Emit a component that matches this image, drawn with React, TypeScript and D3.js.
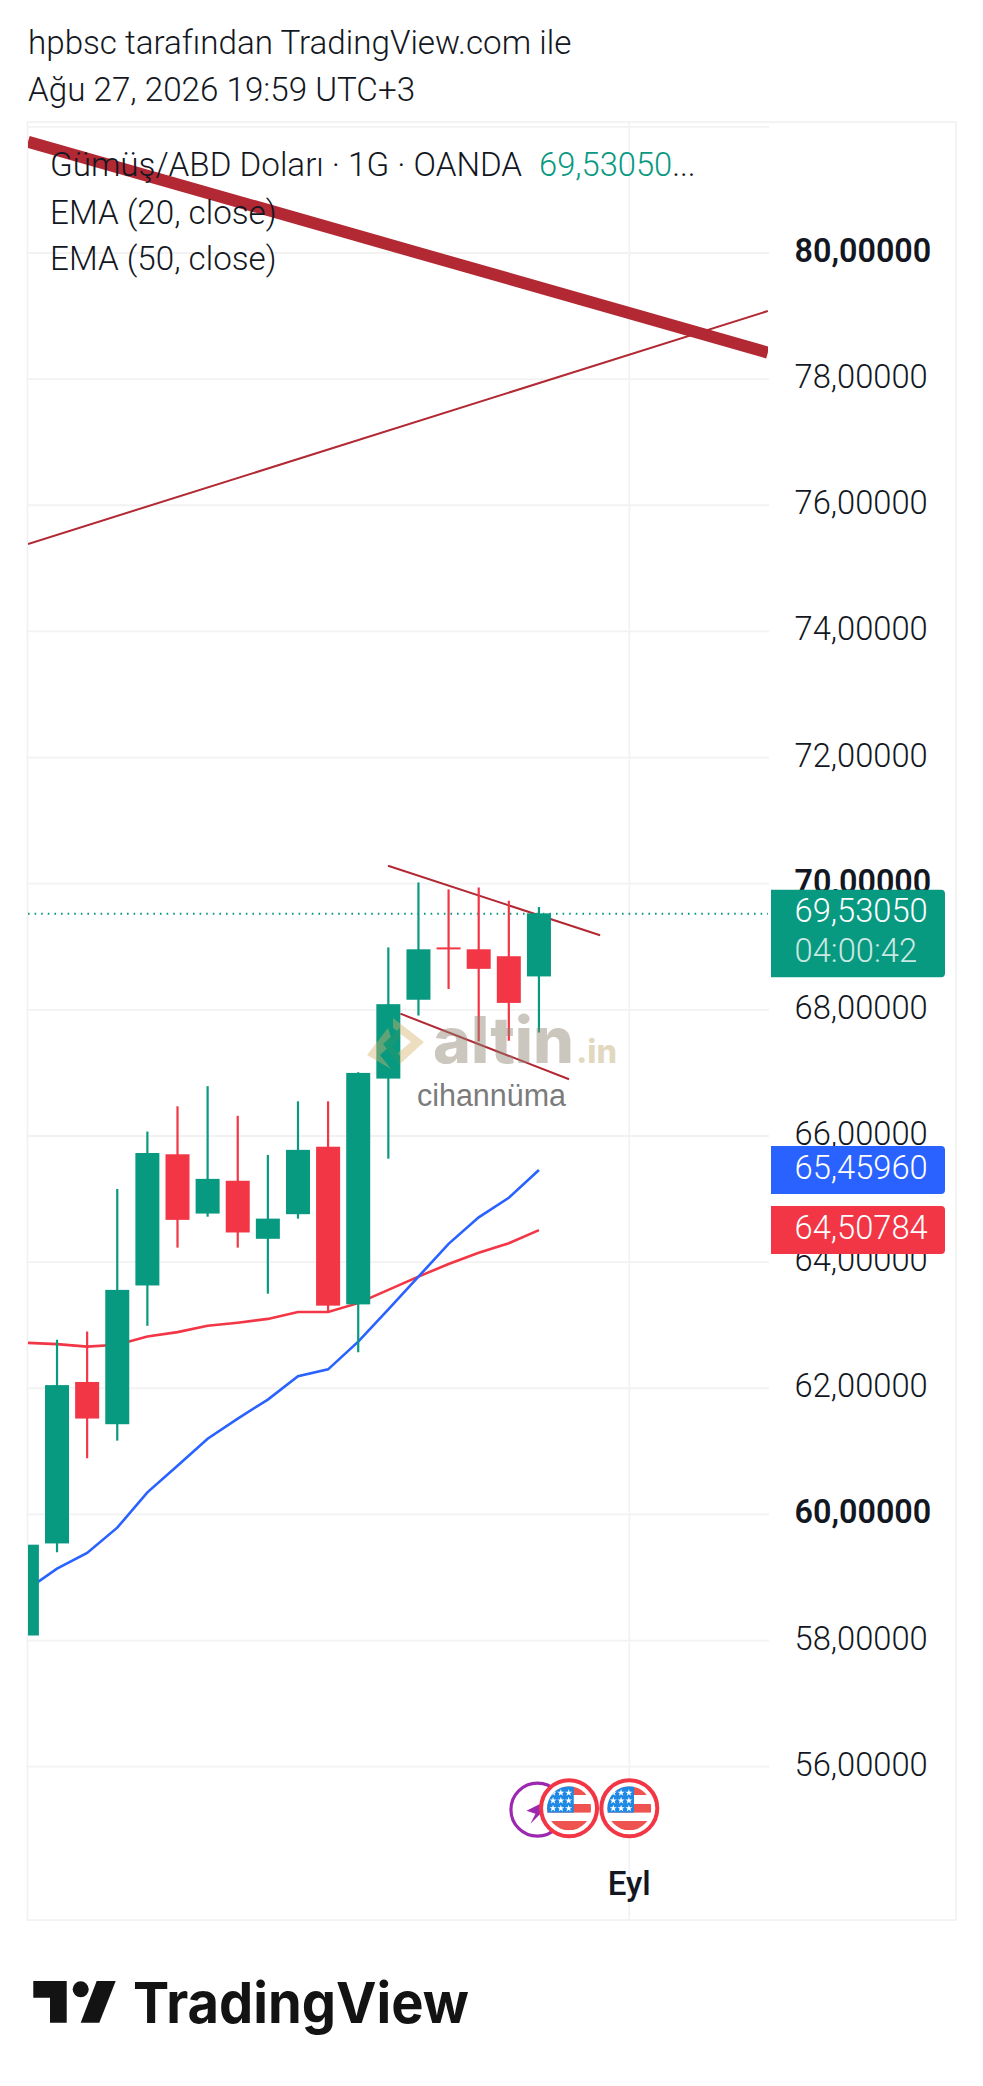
import React from "react";
import * as d3 from "d3";

// Daily candles. Index 0 is the one cut by the left edge.
const OPENS = [58.08, 59.54, 62.1, 61.43, 63.63, 65.71, 64.77, 65.29, 64.37, 64.76, 65.83, 63.33, 66.91, 68.16, 68.99, 68.96, 68.85, 68.53];
const HIGHS = [59.52, 62.77, 62.9, 65.16, 66.07, 66.47, 66.79, 66.32, 65.7, 66.55, 66.55, 67.01, 68.99, 70.02, 69.91, 69.94, 69.73, 69.63];
const LOWS = [58.08, 59.4, 60.89, 61.17, 62.99, 64.23, 64.72, 64.23, 63.5, 64.69, 63.21, 62.57, 65.64, 67.91, 68.33, 67.5, 67.51, 67.64];
const CLOSES = [59.52, 62.05, 61.52, 63.56, 65.73, 64.67, 65.32, 64.47, 64.69, 65.78, 63.31, 67.0, 68.09, 68.96, 68.96, 68.65, 68.11, 69.53];

const EMA_20 = [58.82, 59.14, 59.39, 59.79, 60.35, 60.77, 61.2, 61.52, 61.82, 62.19, 62.3, 62.74, 63.25, 63.77, 64.29, 64.71, 65.02, 65.4596];
const EMA_50 = [62.72, 62.7, 62.66, 62.69, 62.82, 62.89, 62.99, 63.04, 63.1, 63.21, 63.21, 63.35, 63.56, 63.77, 63.97, 64.15, 64.3, 64.50784];

// Hand drawn lines as [candle index, price]
const THICK_LINE: [number, number][] = [[0.037, 81.765], [24.6, 78.42]];
const THIN_LINE: [number, number][] = [[0.037, 75.386], [24.6, 79.08]];
const CHANNEL_TOP: [number, number][] = [[11.99, 70.285], [19.03, 69.182]];
const CHANNEL_BOTTOM: [number, number][] = [[12.4, 67.939], [18.0, 66.899]];

const PRICE_TICKS = [82, 80, 78, 76, 74, 72, 70, 68, 66, 64, 62, 60, 58, 56];
const TICK_LABELS = ["", "80,00000", "78,00000", "76,00000", "74,00000", "72,00000", "70,00000", "68,00000", "66,00000", "64,00000", "62,00000", "60,00000", "58,00000", "56,00000"];
const BOLD_TICKS = [80, 70, 60];

const LAST_PRICE = 69.5305;
const LAST_LABEL = "69,53050";
const COUNTDOWN = "04:00:42";
const EMA20_LABEL = "65,45960";
const EMA50_LABEL = "64,50784";
const MONTH_INDEX = 20;
const EVENT_FLAGS = [18, 20];
const EVENT_BOLT = 17;

const GREEN = "#089981";
const RED = "#F23645";
const BLUE = "#2962FF";
const DRAWN = "#B22833";
const GRID = "#F2F2F2";
const FONT = "Roboto, sans-serif";
const TEXT_SIZE = 33.2;
const SCALE_SIZE = 32.7;
const LABEL_DY = 9;

const L = 28;
const R = 768;
const x = d3.scaleLinear().domain([0, 1]).range([26.9, 57.02]);
const y = d3.scaleLinear().domain([70, 56]).range([883.7, 1766.7]);

const drawn = d3.line<[number, number]>().x((d) => x(d[0])).y((d) => y(d[1]));
const emaLine = d3.line<number>().x((_, i) => (i === 0 ? L : x(i))).y((v) => y(v)).curve(d3.curveLinear);

const starPath = d3.symbol(d3.symbolStar, 16)() ?? "";

const FlagIcon: React.FC<{ cx: number; id: string }> = ({ cx, id }) => (
  <g transform={`translate(${cx},1808.3)`}>
    <circle r={28} fill="#fff" stroke={RED} strokeWidth={4} />
    <clipPath id={id}><circle r={22} /></clipPath>
    <g clipPath={`url(#${id})`}>
      <rect x={-22} y={-22} width={44} height={8.7} fill="#EF5350" />
      <rect x={-22} y={-4.3} width={44} height={8.6} fill="#EF5350" />
      <rect x={-22} y={12.7} width={44} height={9.3} fill="#EF5350" />
      <rect x={-22} y={-22} width={26.7} height={26.3} fill="#1E88E5" />
      {d3.range(3).flatMap((r) =>
        d3.range(3).map((c) => (
          <path key={`${r}-${c}`} d={starPath} fill="#fff" transform={`translate(${-16 + c * 7.8},${-15.5 + r * 7.8})`} />
        ))
      )}
    </g>
  </g>
);

export default function App() {
  return (
    <svg
      width={983}
      height={2086}
      style={{ position: "absolute", left: 0, top: 0, background: "#fff" }}
      fontFamily={FONT}
    >
      <clipPath id="plot"><rect x={L} y={123} width={R - L} height={1796} /></clipPath>

      <text x={28} y={54} fontSize={TEXT_SIZE} fontWeight={300} fill="#131722">hpbsc tarafından TradingView.com ile</text>
      <text x={28} y={101} fontSize={TEXT_SIZE} fontWeight={300} fill="#131722">Ağu 27, 2026 19:59 UTC+3</text>

      <rect x={27.5} y={122} width={928.5} height={1798} fill="#fff" stroke="#F0F0F0" strokeWidth={1.5} />

      {/* grid */}
      {PRICE_TICKS.map((t) => (
        <line key={t} x1={L} x2={R + 1} y1={y(t)} y2={y(t)} stroke={GRID} strokeWidth={1.8} />
      ))}
      <line x1={x(MONTH_INDEX)} x2={x(MONTH_INDEX)} y1={123} y2={1919} stroke={GRID} strokeWidth={1.8} />

      <g clipPath="url(#plot)">
        {/* drawings sit under the candles */}
        <path d={drawn(THICK_LINE) ?? ""} fill="none" stroke={DRAWN} strokeWidth={12} />
        <path d={drawn(THIN_LINE) ?? ""} fill="none" stroke={DRAWN} strokeWidth={2} />
        <path d={drawn(CHANNEL_TOP) ?? ""} fill="none" stroke={DRAWN} strokeWidth={2} />
        <path d={drawn(CHANNEL_BOTTOM) ?? ""} fill="none" stroke={DRAWN} strokeWidth={2} />

        <line x1={L} x2={R} y1={y(LAST_PRICE) + 0.5} y2={y(LAST_PRICE) + 0.5} stroke={GREEN} strokeWidth={2} strokeDasharray="1.6 5" />

        <path d={emaLine(EMA_50) ?? ""} fill="none" stroke={RED} strokeWidth={2.6} />
        <path d={emaLine(EMA_20) ?? ""} fill="none" stroke={BLUE} strokeWidth={2.6} />

        {OPENS.map((o, i) => {
          const c = CLOSES[i];
          const col = c >= o ? GREEN : RED;
          const top = y(Math.max(o, c));
          const bottom = y(Math.min(o, c));
          return (
            <g key={i}>
              <line x1={x(i)} x2={x(i)} y1={y(HIGHS[i])} y2={y(LOWS[i])} stroke={col} strokeWidth={2.2} />
              <rect x={x(i) - 12} y={top} width={24} height={Math.max(bottom - top, 2)} fill={col} />
            </g>
          );
        })}
      </g>

      {/* watermark sits on top of the candles */}
      <g>
        <g opacity={0.42}>
          <path d="M393,1018 L424,1042 L400,1064 L393,1057 L411,1042 L393,1028 Z" fill="#D9B26A" />
          <path d="M367,1055 L388,1028 L393,1043 L380,1055 L391,1069 Z" fill="#D9B26A" />
          <path d="M383,1044 L400,1028 L400,1038 L392,1046 L400,1056 L400,1066 Z" fill="#2F9A68" />
        </g>
        <text x={433} y={1063} fontFamily="Inter, sans-serif" fontWeight={800} fontSize={64} textLength={141} lengthAdjust="spacingAndGlyphs" fill="#8B8270" fillOpacity={0.45}>altin</text>
        <text x={576} y={1063} fontFamily="Inter, sans-serif" fontWeight={800} fontSize={32} textLength={41} lengthAdjust="spacingAndGlyphs" fill="#CDBE94" fillOpacity={0.6}>.in</text>
        <text x={417} y={1106} fontFamily="'Liberation Sans', sans-serif" fontSize={31} textLength={149} lengthAdjust="spacingAndGlyphs" fill="#7B7B7B">cihannüma</text>
      </g>

      {/* legend */}
      <text x={50} y={176} fontSize={TEXT_SIZE} fontWeight={300} fill="#131722">Gümüş/ABD Doları · 1G · OANDA</text>
      <text x={539} y={176} fontSize={SCALE_SIZE} fontWeight={300} fill={GREEN}>69,53050<tspan fill="#131722">...</tspan></text>
      <text x={50} y={224} fontSize={TEXT_SIZE} fontWeight={300} fill="#131722">EMA (20, close)</text>
      <text x={50} y={270} fontSize={TEXT_SIZE} fontWeight={300} fill="#131722">EMA (50, close)</text>

      {/* price scale */}
      {PRICE_TICKS.map((t, i) => (
        <text
          key={t}
          x={794.5}
          y={y(t) + LABEL_DY}
          fontSize={BOLD_TICKS.includes(t) ? 32.3 : SCALE_SIZE}
          fontWeight={BOLD_TICKS.includes(t) ? 600 : 300}
          fill="#131722"
        >
          {TICK_LABELS[i]}
        </text>
      ))}

      {/* last price and EMA tags */}
      <path d={`M771,${y(LAST_PRICE) - 23.5} H941 a4,4 0 0 1 4,4 V${y(LAST_PRICE) + 60} a4,4 0 0 1 -4,4 H771 Z`} fill={GREEN} />
      <text x={794.5} y={y(LAST_PRICE) + LABEL_DY} fontSize={SCALE_SIZE} fontWeight={300} fill="#fff">{LAST_LABEL}</text>
      <text x={794.5} y={y(LAST_PRICE) + 49} fontSize={SCALE_SIZE} fontWeight={300} fill="#fff" fillOpacity={0.8}>{COUNTDOWN}</text>

      <path d={`M771,${y(EMA_20[17]) - 24} H941 a4,4 0 0 1 4,4 V${y(EMA_20[17]) + 20} a4,4 0 0 1 -4,4 H771 Z`} fill={BLUE} />
      <text x={794.5} y={y(EMA_20[17]) + LABEL_DY} fontSize={SCALE_SIZE} fontWeight={300} fill="#fff">{EMA20_LABEL}</text>

      <path d={`M771,${y(EMA_50[17]) - 24} H941 a4,4 0 0 1 4,4 V${y(EMA_50[17]) + 20} a4,4 0 0 1 -4,4 H771 Z`} fill={RED} />
      <text x={794.5} y={y(EMA_50[17]) + LABEL_DY} fontSize={SCALE_SIZE} fontWeight={300} fill="#fff">{EMA50_LABEL}</text>

      {/* events */}
      <g transform={`translate(${x(EVENT_BOLT) - 1.5},1809.7)`}>
        <circle r={26.5} fill="#fff" stroke="#9C27B0" strokeWidth={3.2} />
        <path d="M-11,1 L3,-6 L3,4 L-7,14 L-2,4 Z" fill="#9C27B0" />
      </g>
      {EVENT_FLAGS.map((i) => (
        <FlagIcon key={i} cx={x(i)} id={`flag-${i}`} />
      ))}

      <text x={x(MONTH_INDEX)} y={1895} textAnchor="middle" fontSize={TEXT_SIZE} fontWeight={500} fill="#131722">Eyl</text>

      {/* TradingView logo */}
      <g fill="#131313">
        <path d="M33.3,1981 H66.7 V2022.7 H50 V1997.7 H33.3 Z" />
        <circle cx={80.7} cy={1989.3} r={8} />
        <path d="M96.7,1981 H115.7 L99.3,2022.7 H80.7 Z" />
        <text x={133} y={2022.7} fontFamily="Inter, sans-serif" fontWeight={700} fontSize={57} textLength={336} lengthAdjust="spacingAndGlyphs">TradingView</text>
      </g>
    </svg>
  );
}
